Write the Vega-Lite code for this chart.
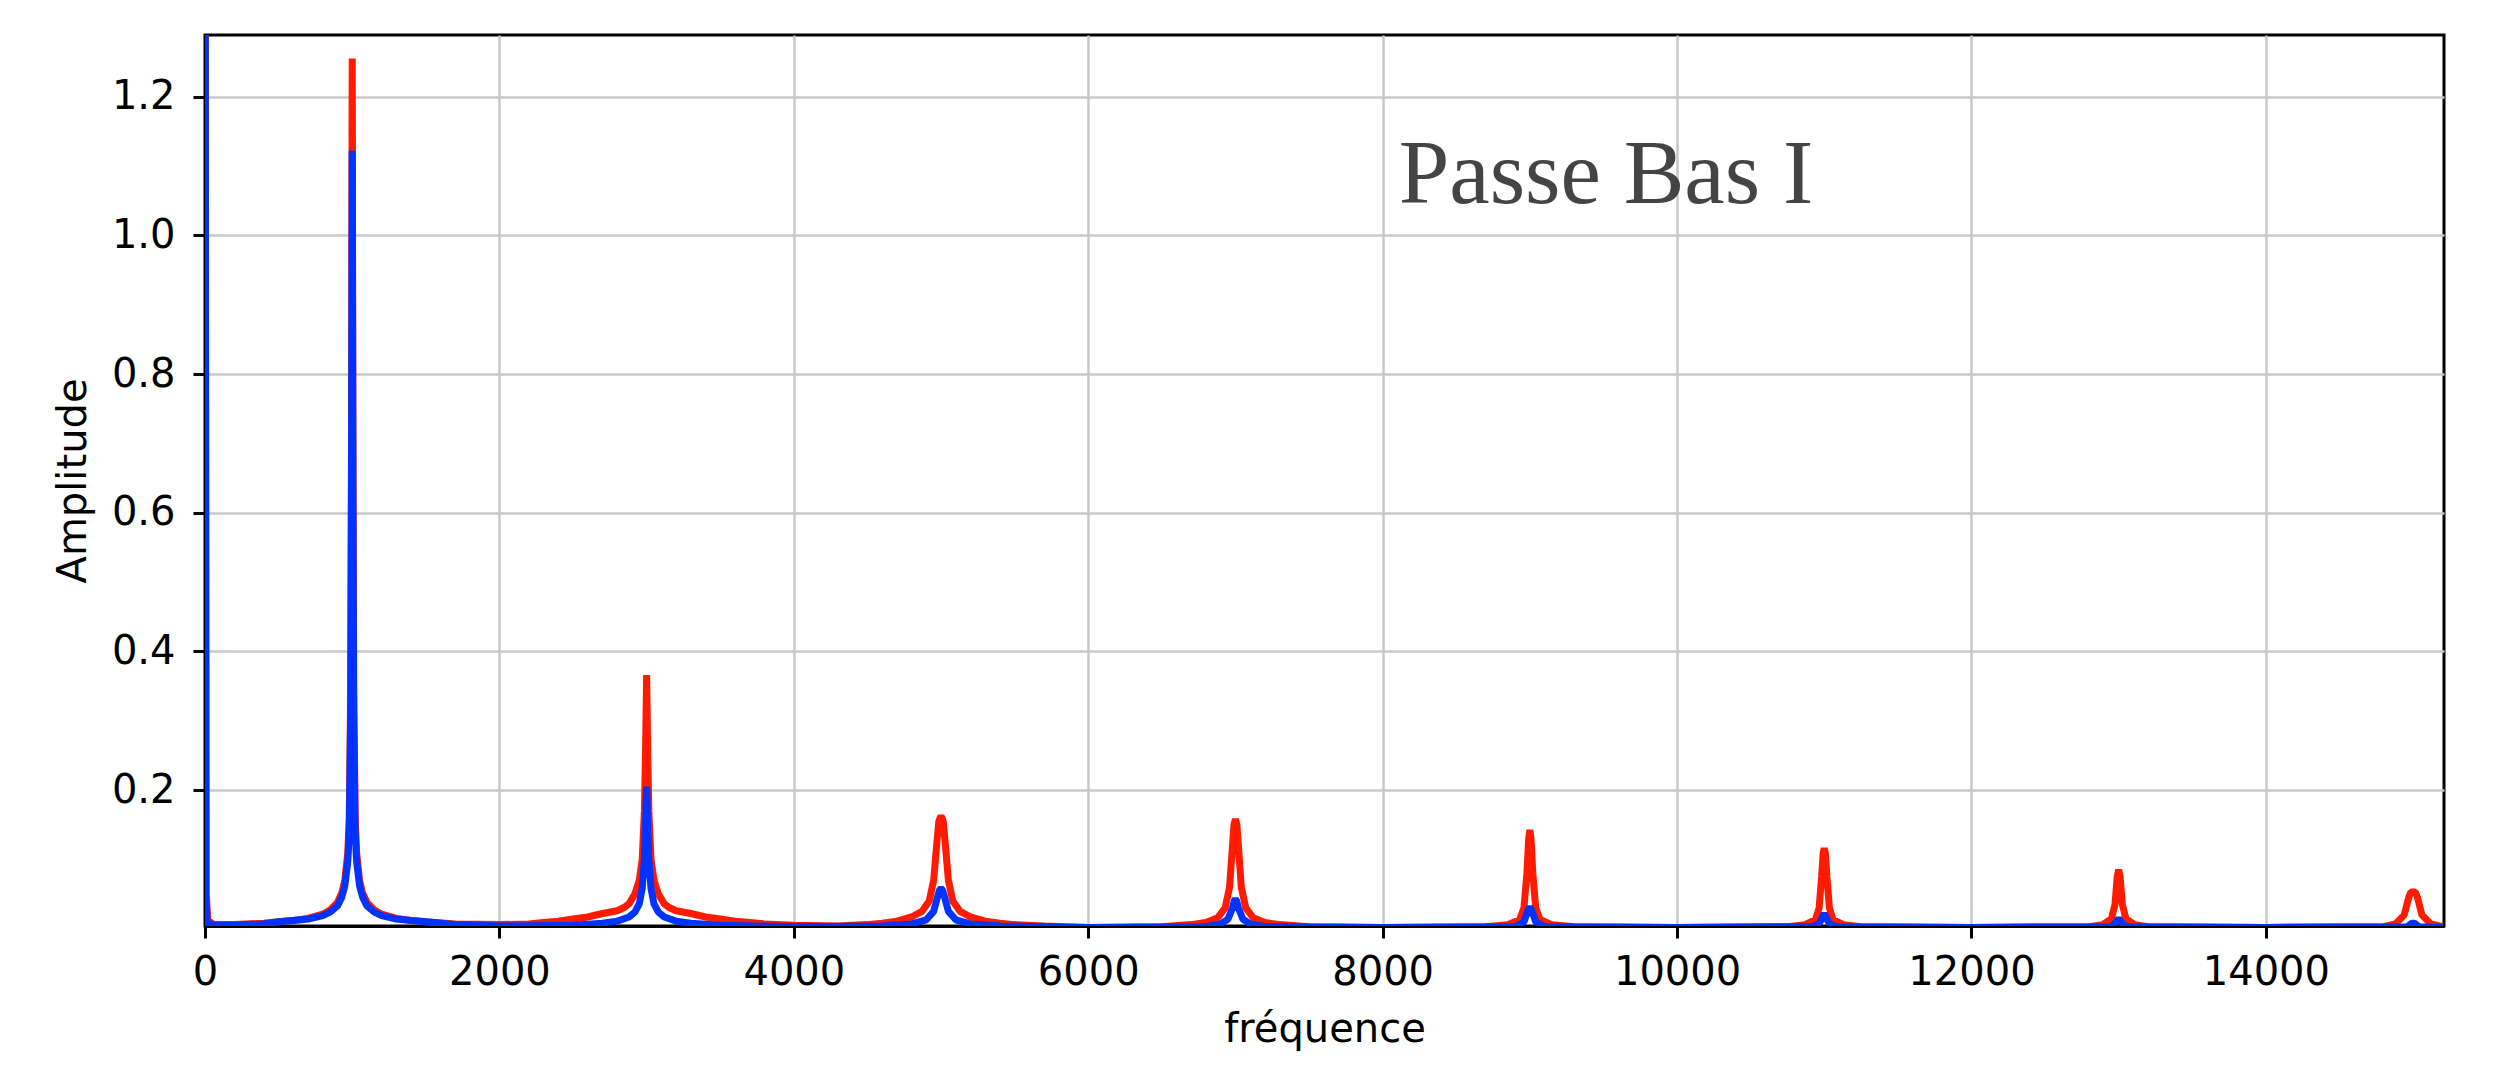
{
  "$schema": "https://vega.github.io/schema/vega-lite/v6.json",
  "width": 2239,
  "height": 891,
  "autosize": {"type": "none"},
  "padding": {"left": 205, "top": 35, "right": 66, "bottom": 146},
  "background": "white",
  "config": {
    "font": "DejaVu Sans",
    "view": {"stroke": "black", "strokeWidth": 3},
    "axis": {
      "labelFontSize": 40,
      "titleFontSize": 40,
      "labelColor": "black",
      "titleColor": "black",
      "titleFontWeight": "normal",
      "domainColor": "black",
      "domainWidth": 3,
      "tickColor": "black",
      "tickWidth": 3,
      "tickSize": 12,
      "gridColor": "#c8c8c8",
      "gridWidth": 2.5,
      "labelFlush": false,
      "labelOverlap": false
    }
  },
  "datasets": {
    "titre": [{"label": "Passe Bas I"}],
    "spectre": [
      {"f": 0, "a": 1.8, "s": "entrée"},
      {"f": 8, "a": 0.05, "s": "entrée"},
      {"f": 20, "a": 0.012, "s": "entrée"},
      {"f": 60, "a": 0.006, "s": "entrée"},
      {"f": 200, "a": 0.006, "s": "entrée"},
      {"f": 400, "a": 0.008, "s": "entrée"},
      {"f": 500, "a": 0.010, "s": "entrée"},
      {"f": 600, "a": 0.012, "s": "entrée"},
      {"f": 700, "a": 0.015, "s": "entrée"},
      {"f": 800, "a": 0.021, "s": "entrée"},
      {"f": 850, "a": 0.027, "s": "entrée"},
      {"f": 900, "a": 0.038, "s": "entrée"},
      {"f": 930, "a": 0.052, "s": "entrée"},
      {"f": 950, "a": 0.07, "s": "entrée"},
      {"f": 970, "a": 0.11, "s": "entrée"},
      {"f": 980, "a": 0.16, "s": "entrée"},
      {"f": 990, "a": 0.35, "s": "entrée"},
      {"f": 995, "a": 0.7, "s": "entrée"},
      {"f": 1000, "a": 1.255, "s": "entrée"},
      {"f": 1005, "a": 0.7, "s": "entrée"},
      {"f": 1010, "a": 0.35, "s": "entrée"},
      {"f": 1020, "a": 0.16, "s": "entrée"},
      {"f": 1030, "a": 0.11, "s": "entrée"},
      {"f": 1050, "a": 0.07, "s": "entrée"},
      {"f": 1070, "a": 0.052, "s": "entrée"},
      {"f": 1100, "a": 0.038, "s": "entrée"},
      {"f": 1150, "a": 0.027, "s": "entrée"},
      {"f": 1200, "a": 0.021, "s": "entrée"},
      {"f": 1300, "a": 0.015, "s": "entrée"},
      {"f": 1400, "a": 0.012, "s": "entrée"},
      {"f": 1500, "a": 0.010, "s": "entrée"},
      {"f": 1700, "a": 0.007, "s": "entrée"},
      {"f": 2000, "a": 0.006, "s": "entrée"},
      {"f": 2200, "a": 0.007, "s": "entrée"},
      {"f": 2300, "a": 0.009, "s": "entrée"},
      {"f": 2400, "a": 0.011, "s": "entrée"},
      {"f": 2500, "a": 0.014, "s": "entrée"},
      {"f": 2600, "a": 0.017, "s": "entrée"},
      {"f": 2700, "a": 0.022, "s": "entrée"},
      {"f": 2800, "a": 0.026, "s": "entrée"},
      {"f": 2850, "a": 0.031, "s": "entrée"},
      {"f": 2880, "a": 0.036, "s": "entrée"},
      {"f": 2920, "a": 0.05, "s": "entrée"},
      {"f": 2950, "a": 0.07, "s": "entrée"},
      {"f": 2970, "a": 0.1, "s": "entrée"},
      {"f": 2985, "a": 0.17, "s": "entrée"},
      {"f": 2993, "a": 0.26, "s": "entrée"},
      {"f": 3000, "a": 0.366, "s": "entrée"},
      {"f": 3007, "a": 0.26, "s": "entrée"},
      {"f": 3015, "a": 0.17, "s": "entrée"},
      {"f": 3030, "a": 0.1, "s": "entrée"},
      {"f": 3050, "a": 0.07, "s": "entrée"},
      {"f": 3080, "a": 0.05, "s": "entrée"},
      {"f": 3120, "a": 0.036, "s": "entrée"},
      {"f": 3150, "a": 0.031, "s": "entrée"},
      {"f": 3200, "a": 0.026, "s": "entrée"},
      {"f": 3300, "a": 0.022, "s": "entrée"},
      {"f": 3400, "a": 0.017, "s": "entrée"},
      {"f": 3500, "a": 0.014, "s": "entrée"},
      {"f": 3600, "a": 0.011, "s": "entrée"},
      {"f": 3700, "a": 0.009, "s": "entrée"},
      {"f": 3800, "a": 0.007, "s": "entrée"},
      {"f": 4000, "a": 0.005, "s": "entrée"},
      {"f": 4300, "a": 0.004, "s": "entrée"},
      {"f": 4500, "a": 0.006, "s": "entrée"},
      {"f": 4600, "a": 0.008, "s": "entrée"},
      {"f": 4700, "a": 0.011, "s": "entrée"},
      {"f": 4800, "a": 0.017, "s": "entrée"},
      {"f": 4870, "a": 0.025, "s": "entrée"},
      {"f": 4920, "a": 0.04, "s": "entrée"},
      {"f": 4950, "a": 0.07, "s": "entrée"},
      {"f": 4970, "a": 0.12, "s": "entrée"},
      {"f": 4985, "a": 0.155, "s": "entrée"},
      {"f": 5000, "a": 0.163, "s": "entrée"},
      {"f": 5015, "a": 0.155, "s": "entrée"},
      {"f": 5030, "a": 0.12, "s": "entrée"},
      {"f": 5050, "a": 0.07, "s": "entrée"},
      {"f": 5080, "a": 0.04, "s": "entrée"},
      {"f": 5130, "a": 0.025, "s": "entrée"},
      {"f": 5200, "a": 0.017, "s": "entrée"},
      {"f": 5300, "a": 0.011, "s": "entrée"},
      {"f": 5400, "a": 0.008, "s": "entrée"},
      {"f": 5500, "a": 0.006, "s": "entrée"},
      {"f": 5700, "a": 0.004, "s": "entrée"},
      {"f": 6000, "a": 0.002, "s": "entrée"},
      {"f": 6500, "a": 0.003, "s": "entrée"},
      {"f": 6700, "a": 0.006, "s": "entrée"},
      {"f": 6800, "a": 0.009, "s": "entrée"},
      {"f": 6880, "a": 0.016, "s": "entrée"},
      {"f": 6930, "a": 0.03, "s": "entrée"},
      {"f": 6960, "a": 0.06, "s": "entrée"},
      {"f": 6980, "a": 0.12, "s": "entrée"},
      {"f": 6990, "a": 0.15, "s": "entrée"},
      {"f": 7000, "a": 0.158, "s": "entrée"},
      {"f": 7010, "a": 0.15, "s": "entrée"},
      {"f": 7020, "a": 0.12, "s": "entrée"},
      {"f": 7040, "a": 0.06, "s": "entrée"},
      {"f": 7070, "a": 0.03, "s": "entrée"},
      {"f": 7120, "a": 0.016, "s": "entrée"},
      {"f": 7200, "a": 0.009, "s": "entrée"},
      {"f": 7300, "a": 0.006, "s": "entrée"},
      {"f": 7500, "a": 0.003, "s": "entrée"},
      {"f": 8000, "a": 0.002, "s": "entrée"},
      {"f": 8700, "a": 0.003, "s": "entrée"},
      {"f": 8850, "a": 0.006, "s": "entrée"},
      {"f": 8930, "a": 0.013, "s": "entrée"},
      {"f": 8960, "a": 0.03, "s": "entrée"},
      {"f": 8980, "a": 0.08, "s": "entrée"},
      {"f": 8992, "a": 0.13, "s": "entrée"},
      {"f": 9000, "a": 0.1425, "s": "entrée"},
      {"f": 9008, "a": 0.13, "s": "entrée"},
      {"f": 9020, "a": 0.08, "s": "entrée"},
      {"f": 9040, "a": 0.03, "s": "entrée"},
      {"f": 9070, "a": 0.013, "s": "entrée"},
      {"f": 9150, "a": 0.006, "s": "entrée"},
      {"f": 9300, "a": 0.003, "s": "entrée"},
      {"f": 10000, "a": 0.002, "s": "entrée"},
      {"f": 10750, "a": 0.003, "s": "entrée"},
      {"f": 10870, "a": 0.006, "s": "entrée"},
      {"f": 10940, "a": 0.013, "s": "entrée"},
      {"f": 10965, "a": 0.03, "s": "entrée"},
      {"f": 10982, "a": 0.075, "s": "entrée"},
      {"f": 10993, "a": 0.11, "s": "entrée"},
      {"f": 11000, "a": 0.116, "s": "entrée"},
      {"f": 11007, "a": 0.11, "s": "entrée"},
      {"f": 11018, "a": 0.075, "s": "entrée"},
      {"f": 11035, "a": 0.03, "s": "entrée"},
      {"f": 11060, "a": 0.013, "s": "entrée"},
      {"f": 11130, "a": 0.006, "s": "entrée"},
      {"f": 11250, "a": 0.003, "s": "entrée"},
      {"f": 12000, "a": 0.002, "s": "entrée"},
      {"f": 12800, "a": 0.003, "s": "entrée"},
      {"f": 12890, "a": 0.006, "s": "entrée"},
      {"f": 12950, "a": 0.014, "s": "entrée"},
      {"f": 12975, "a": 0.035, "s": "entrée"},
      {"f": 12990, "a": 0.075, "s": "entrée"},
      {"f": 13000, "a": 0.085, "s": "entrée"},
      {"f": 13010, "a": 0.075, "s": "entrée"},
      {"f": 13025, "a": 0.035, "s": "entrée"},
      {"f": 13050, "a": 0.014, "s": "entrée"},
      {"f": 13110, "a": 0.006, "s": "entrée"},
      {"f": 13200, "a": 0.003, "s": "entrée"},
      {"f": 14000, "a": 0.002, "s": "entrée"},
      {"f": 14800, "a": 0.003, "s": "entrée"},
      {"f": 14880, "a": 0.007, "s": "entrée"},
      {"f": 14940, "a": 0.02, "s": "entrée"},
      {"f": 14970, "a": 0.045, "s": "entrée"},
      {"f": 14985, "a": 0.053, "s": "entrée"},
      {"f": 15015, "a": 0.053, "s": "entrée"},
      {"f": 15030, "a": 0.045, "s": "entrée"},
      {"f": 15060, "a": 0.02, "s": "entrée"},
      {"f": 15120, "a": 0.007, "s": "entrée"},
      {"f": 15200, "a": 0.003, "s": "entrée"},
      {"f": 0, "a": 1.8, "s": "sortie"},
      {"f": 6, "a": 0.04, "s": "sortie"},
      {"f": 15, "a": 0.008, "s": "sortie"},
      {"f": 60, "a": 0.005, "s": "sortie"},
      {"f": 200, "a": 0.005, "s": "sortie"},
      {"f": 400, "a": 0.007, "s": "sortie"},
      {"f": 500, "a": 0.010, "s": "sortie"},
      {"f": 600, "a": 0.012, "s": "sortie"},
      {"f": 700, "a": 0.014, "s": "sortie"},
      {"f": 800, "a": 0.019, "s": "sortie"},
      {"f": 850, "a": 0.024, "s": "sortie"},
      {"f": 900, "a": 0.033, "s": "sortie"},
      {"f": 930, "a": 0.046, "s": "sortie"},
      {"f": 950, "a": 0.062, "s": "sortie"},
      {"f": 970, "a": 0.097, "s": "sortie"},
      {"f": 980, "a": 0.14, "s": "sortie"},
      {"f": 990, "a": 0.31, "s": "sortie"},
      {"f": 995, "a": 0.63, "s": "sortie"},
      {"f": 1000, "a": 1.122, "s": "sortie"},
      {"f": 1005, "a": 0.63, "s": "sortie"},
      {"f": 1010, "a": 0.31, "s": "sortie"},
      {"f": 1020, "a": 0.14, "s": "sortie"},
      {"f": 1030, "a": 0.097, "s": "sortie"},
      {"f": 1050, "a": 0.062, "s": "sortie"},
      {"f": 1070, "a": 0.046, "s": "sortie"},
      {"f": 1100, "a": 0.033, "s": "sortie"},
      {"f": 1150, "a": 0.024, "s": "sortie"},
      {"f": 1200, "a": 0.019, "s": "sortie"},
      {"f": 1300, "a": 0.014, "s": "sortie"},
      {"f": 1400, "a": 0.012, "s": "sortie"},
      {"f": 1500, "a": 0.010, "s": "sortie"},
      {"f": 1700, "a": 0.006, "s": "sortie"},
      {"f": 2000, "a": 0.004, "s": "sortie"},
      {"f": 2500, "a": 0.005, "s": "sortie"},
      {"f": 2700, "a": 0.008, "s": "sortie"},
      {"f": 2800, "a": 0.011, "s": "sortie"},
      {"f": 2880, "a": 0.017, "s": "sortie"},
      {"f": 2920, "a": 0.024, "s": "sortie"},
      {"f": 2950, "a": 0.036, "s": "sortie"},
      {"f": 2970, "a": 0.058, "s": "sortie"},
      {"f": 2985, "a": 0.1, "s": "sortie"},
      {"f": 2993, "a": 0.15, "s": "sortie"},
      {"f": 3000, "a": 0.205, "s": "sortie"},
      {"f": 3007, "a": 0.15, "s": "sortie"},
      {"f": 3015, "a": 0.1, "s": "sortie"},
      {"f": 3030, "a": 0.058, "s": "sortie"},
      {"f": 3050, "a": 0.036, "s": "sortie"},
      {"f": 3080, "a": 0.024, "s": "sortie"},
      {"f": 3120, "a": 0.017, "s": "sortie"},
      {"f": 3200, "a": 0.011, "s": "sortie"},
      {"f": 3300, "a": 0.008, "s": "sortie"},
      {"f": 3500, "a": 0.005, "s": "sortie"},
      {"f": 4000, "a": 0.003, "s": "sortie"},
      {"f": 4600, "a": 0.004, "s": "sortie"},
      {"f": 4800, "a": 0.007, "s": "sortie"},
      {"f": 4900, "a": 0.013, "s": "sortie"},
      {"f": 4950, "a": 0.025, "s": "sortie"},
      {"f": 4975, "a": 0.045, "s": "sortie"},
      {"f": 4990, "a": 0.056, "s": "sortie"},
      {"f": 5000, "a": 0.058, "s": "sortie"},
      {"f": 5010, "a": 0.056, "s": "sortie"},
      {"f": 5025, "a": 0.045, "s": "sortie"},
      {"f": 5050, "a": 0.025, "s": "sortie"},
      {"f": 5100, "a": 0.013, "s": "sortie"},
      {"f": 5200, "a": 0.007, "s": "sortie"},
      {"f": 5400, "a": 0.004, "s": "sortie"},
      {"f": 6000, "a": 0.002, "s": "sortie"},
      {"f": 6800, "a": 0.003, "s": "sortie"},
      {"f": 6900, "a": 0.007, "s": "sortie"},
      {"f": 6950, "a": 0.014, "s": "sortie"},
      {"f": 6980, "a": 0.03, "s": "sortie"},
      {"f": 6992, "a": 0.04, "s": "sortie"},
      {"f": 7000, "a": 0.043, "s": "sortie"},
      {"f": 7008, "a": 0.04, "s": "sortie"},
      {"f": 7020, "a": 0.03, "s": "sortie"},
      {"f": 7050, "a": 0.014, "s": "sortie"},
      {"f": 7100, "a": 0.007, "s": "sortie"},
      {"f": 7200, "a": 0.003, "s": "sortie"},
      {"f": 8000, "a": 0.002, "s": "sortie"},
      {"f": 8900, "a": 0.003, "s": "sortie"},
      {"f": 8960, "a": 0.01, "s": "sortie"},
      {"f": 8985, "a": 0.025, "s": "sortie"},
      {"f": 9000, "a": 0.032, "s": "sortie"},
      {"f": 9015, "a": 0.025, "s": "sortie"},
      {"f": 9040, "a": 0.01, "s": "sortie"},
      {"f": 9100, "a": 0.003, "s": "sortie"},
      {"f": 10000, "a": 0.002, "s": "sortie"},
      {"f": 10920, "a": 0.003, "s": "sortie"},
      {"f": 10970, "a": 0.009, "s": "sortie"},
      {"f": 10990, "a": 0.018, "s": "sortie"},
      {"f": 11000, "a": 0.022, "s": "sortie"},
      {"f": 11010, "a": 0.018, "s": "sortie"},
      {"f": 11030, "a": 0.009, "s": "sortie"},
      {"f": 11080, "a": 0.003, "s": "sortie"},
      {"f": 12000, "a": 0.002, "s": "sortie"},
      {"f": 12950, "a": 0.003, "s": "sortie"},
      {"f": 12985, "a": 0.01, "s": "sortie"},
      {"f": 13000, "a": 0.015, "s": "sortie"},
      {"f": 13015, "a": 0.01, "s": "sortie"},
      {"f": 13050, "a": 0.003, "s": "sortie"},
      {"f": 14000, "a": 0.002, "s": "sortie"},
      {"f": 14960, "a": 0.003, "s": "sortie"},
      {"f": 14990, "a": 0.008, "s": "sortie"},
      {"f": 15010, "a": 0.008, "s": "sortie"},
      {"f": 15040, "a": 0.003, "s": "sortie"},
      {"f": 15200, "a": 0.002, "s": "sortie"}
    ]
  },
  "layer": [
    {
      "data": {"name": "spectre"},
      "transform": [{"filter": "datum.s === 'entrée'"}],
      "mark": {"type": "line", "strokeWidth": 7, "strokeJoin": "bevel", "clip": true},
      "encoding": {
        "x": {
          "field": "f",
          "type": "quantitative",
          "scale": {"domain": [0, 15210], "nice": false, "zero": false},
          "axis": {
            "values": [0, 2000, 4000, 6000, 8000, 10000, 12000, 14000],
            "format": "d",
            "title": "fréquence",
            "labelPadding": 14,
            "titlePadding": 17
          }
        },
        "y": {
          "field": "a",
          "type": "quantitative",
          "scale": {"domain": [0.004, 1.289], "nice": false, "zero": false},
          "axis": {
            "values": [0.2, 0.4, 0.6, 0.8, 1.0, 1.2],
            "format": ".1f",
            "title": "Amplitude",
            "labelPadding": 18,
            "titlePadding": 18
          }
        },
        "color": {
          "field": "s",
          "type": "nominal",
          "scale": {"domain": ["entrée", "sortie"], "range": ["#ff1a00", "#0033ff"]},
          "legend": null
        }
      }
    },
    {
      "data": {"name": "spectre"},
      "transform": [{"filter": "datum.s === 'sortie'"}],
      "mark": {"type": "line", "strokeWidth": 7, "strokeJoin": "bevel", "clip": true},
      "encoding": {
        "x": {"field": "f", "type": "quantitative"},
        "y": {"field": "a", "type": "quantitative"},
        "color": {"field": "s", "type": "nominal", "legend": null}
      }
    },
    {
      "data": {"name": "titre"},
      "mark": {
        "type": "text",
        "font": "Liberation Serif",
        "fontSize": 91,
        "fill": "#444444",
        "align": "center",
        "baseline": "alphabetic"
      },
      "encoding": {
        "x": {"datum": 9517},
        "y": {"datum": 1.047},
        "text": {"field": "label"}
      }
    }
  ]
}
